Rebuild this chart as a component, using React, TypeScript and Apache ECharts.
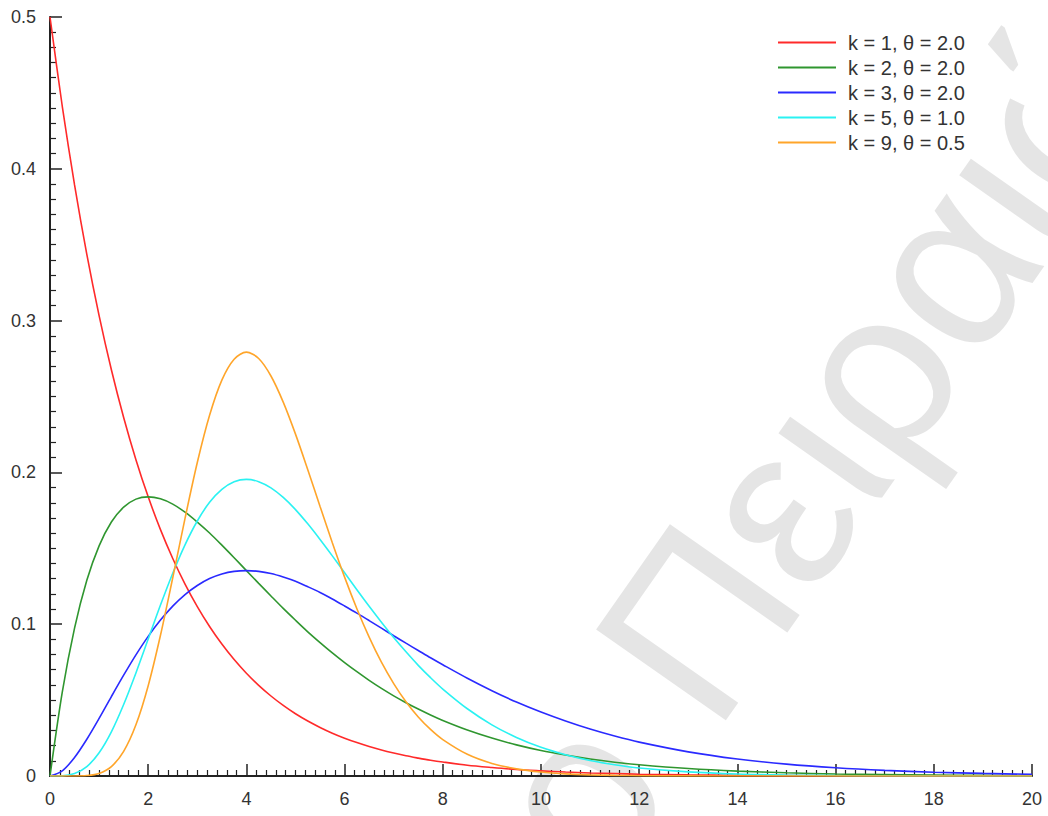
import React, { useEffect, useRef } from "react";
import * as echarts from "echarts";

const xValues = [
  0, 0.25, 0.5, 0.75, 1, 1.25, 1.5, 1.75, 2, 2.25, 2.5, 2.75, 3, 3.25, 3.5, 3.75, 4,
  4.25, 4.5, 4.75, 5, 5.25, 5.5, 5.75, 6, 6.25, 6.5, 6.75, 7, 7.25, 7.5, 7.75, 8,
  8.5, 9, 9.5, 10, 10.5, 11, 11.5, 12, 13, 14, 15, 16, 17, 18, 19, 20,
];

const redK1 = [
  0.5, 0.4412, 0.3894, 0.3436, 0.3033, 0.2676, 0.2362, 0.2084, 0.1839, 0.1623, 0.1433, 0.1264, 0.1116, 0.0985, 0.0869, 0.0767, 0.0677,
  0.0597, 0.0527, 0.0465, 0.041, 0.0362, 0.032, 0.0282, 0.0249, 0.022, 0.0194, 0.0171, 0.0151, 0.0133, 0.0118, 0.0104, 0.0092,
  0.0071, 0.0056, 0.0043, 0.0034, 0.0026, 0.002, 0.0016, 0.0012, 0.00075, 0.00046, 0.00028, 0.00017, 0.0001, 0.00006, 0.00004, 0.00002,
];

const greenK2 = [
  0, 0.0552, 0.0974, 0.1289, 0.1516, 0.1673, 0.1771, 0.1824, 0.1839, 0.1826, 0.1791, 0.1738, 0.1673, 0.1601, 0.1521, 0.1438, 0.1353,
  0.1269, 0.1186, 0.1104, 0.1026, 0.095, 0.0879, 0.0811, 0.0747, 0.0687, 0.063, 0.0577, 0.0528, 0.0483, 0.0441, 0.0402, 0.0366,
  0.0303, 0.025, 0.0205, 0.0168, 0.0138, 0.0112, 0.0091, 0.0074, 0.0049, 0.0032, 0.0021, 0.0013, 0.0009, 0.0006, 0.0004, 0.0002,
];

const blueK3 = [
  0, 0.0034, 0.0122, 0.0242, 0.0379, 0.0523, 0.0664, 0.0798, 0.092, 0.1027, 0.1119, 0.1195, 0.1255, 0.1301, 0.1331, 0.1348, 0.1353,
  0.1348, 0.1334, 0.1311, 0.1283, 0.1247, 0.1209, 0.1166, 0.112, 0.1073, 0.1024, 0.0974, 0.0924, 0.0875, 0.0827, 0.0779, 0.0733,
  0.0644, 0.0562, 0.0487, 0.0421, 0.0362, 0.0309, 0.0263, 0.0223, 0.0159, 0.0112, 0.0078, 0.0054, 0.0037, 0.0025, 0.0017, 0.0011,
];

const cyanK5 = [
  0, 0.0001, 0.0016, 0.0062, 0.0153, 0.0291, 0.0471, 0.0679, 0.0902, 0.1126, 0.1336, 0.1523, 0.168, 0.1803, 0.1888, 0.1938, 0.1954,
  0.1939, 0.1898, 0.1835, 0.1755, 0.1661, 0.1558, 0.145, 0.1339, 0.1227, 0.1118, 0.1013, 0.0912, 0.0818, 0.0729, 0.0648, 0.0573,
  0.0443, 0.0337, 0.0254, 0.0189, 0.014, 0.0102, 0.0074, 0.0053, 0.0027, 0.0013, 0.00065, 0.00031, 0.00014, 0.00007, 0.00003, 0.00001,
];

const orangeK9 = [
  0, 0, 0.00002, 0.0003, 0.0017, 0.0062, 0.0162, 0.0337, 0.0595, 0.0927, 0.1306, 0.1697, 0.2065, 0.2376, 0.2608, 0.2746, 0.2792,
  0.275, 0.2635, 0.2463, 0.2252, 0.2018, 0.1776, 0.1537, 0.131, 0.1102, 0.0915, 0.075, 0.0609, 0.0489, 0.0389, 0.0307, 0.024,
  0.0143, 0.0083, 0.0047, 0.0026, 0.0014, 0.00076, 0.0004, 0.00021, 0.00005, 0.00001, 0, 0, 0, 0, 0, 0,
];

const seriesNames = [
  "k = 1, θ = 2.0",
  "k = 2, θ = 2.0",
  "k = 3, θ = 2.0",
  "k = 5, θ = 1.0",
  "k = 9, θ = 0.5",
];
const seriesValues = [redK1, greenK2, blueK3, cyanK5, orangeK9];
const seriesColors = ["#ff2a2a", "#2f962f", "#2a2aff", "#2af2f2", "#ffa52a"];

const xTicks = [0, 20, 2];
const yTicks = [0, 0.5, 0.1];

const FONT = "'Liberation Sans', Arial, sans-serif";

export default function App() {
  const ref = useRef<HTMLDivElement>(null);
  useEffect(() => {
    document.body.style.margin = "0";
    if (!ref.current) return;
    const chart = echarts.init(ref.current, undefined, { renderer: "svg" });
    const theta = (55 * Math.PI) / 180;
    const ux = Math.cos(theta);
    const uy = -Math.sin(theta);
    const ax = 650;
    const ay = 690;
    const fs = 230;
    const gap = fs * 0.28;
    const option: any = {
      animation: false,
      backgroundColor: "#ffffff",
      grid: { left: 50, right: 16, top: 17, bottom: 40, containLabel: false },
      graphic: [
        {
          type: "text",
          x: ax,
          y: ay,
          rotation: theta,
          z: -10,
          silent: true,
          style: {
            text: "Πειραιώς",
            x: 0,
            y: 0,
            fill: "#e5e5e5",
            font: `${fs}px ${FONT}`,
            textAlign: "left",
            textVerticalAlign: "middle",
          },
        },
        {
          type: "text",
          x: ax - ux * gap,
          y: ay - uy * gap,
          rotation: theta,
          z: -10,
          silent: true,
          style: {
            text: "Πανεπιστήμιο",
            x: 0,
            y: 0,
            fill: "#e5e5e5",
            font: `${fs}px ${FONT}`,
            textAlign: "right",
            textVerticalAlign: "middle",
          },
        },
      ],
      legend: {
        orient: "vertical",
        left: 778,
        top: 30,
        padding: 0,
        itemWidth: 58,
        itemHeight: 2,
        itemGap: 0,
        icon: "rect",
        textStyle: {
          fontFamily: FONT,
          fontSize: 20,
          color: "#333333",
          lineHeight: 25,
          padding: [0, 0, 0, 7],
        },
        data: seriesNames,
      },
      xAxis: {
        type: "value",
        min: xTicks[0],
        max: xTicks[1],
        interval: xTicks[2],
        axisLine: { show: true, onZero: false, lineStyle: { color: "#222", width: 2 } },
        axisTick: { show: true, inside: true, length: 12, lineStyle: { color: "#222", width: 1.5 } },
        minorTick: { show: true, splitNumber: 10, length: 6, lineStyle: { color: "#222", width: 1.2 } },
        splitLine: { show: false },
        axisLabel: { fontFamily: FONT, fontSize: 18, color: "#333333", margin: 14 },
      },
      yAxis: {
        type: "value",
        min: yTicks[0],
        max: yTicks[1],
        interval: yTicks[2],
        axisLine: { show: true, onZero: false, lineStyle: { color: "#222", width: 2 } },
        axisTick: { show: true, inside: true, length: 12, lineStyle: { color: "#222", width: 1.5 } },
        minorTick: { show: true, splitNumber: 10, length: 6, lineStyle: { color: "#222", width: 1.2 } },
        splitLine: { show: false },
        axisLabel: { fontFamily: FONT, fontSize: 18, color: "#333333", margin: 14 },
      },
      series: seriesNames.map((name, i) => ({
        name,
        type: "line",
        smooth: 0.3,
        showSymbol: false,
        symbol: "none",
        z: 5,
        color: seriesColors[i],
        lineStyle: { color: seriesColors[i], width: 1.6 },
        data: xValues.map((x, j) => [x, seriesValues[i][j]]),
      })),
    };
    chart.setOption(option);
    return () => chart.dispose();
  }, []);
  return <div ref={ref} style={{ width: 1048, height: 816 }} />;
}
